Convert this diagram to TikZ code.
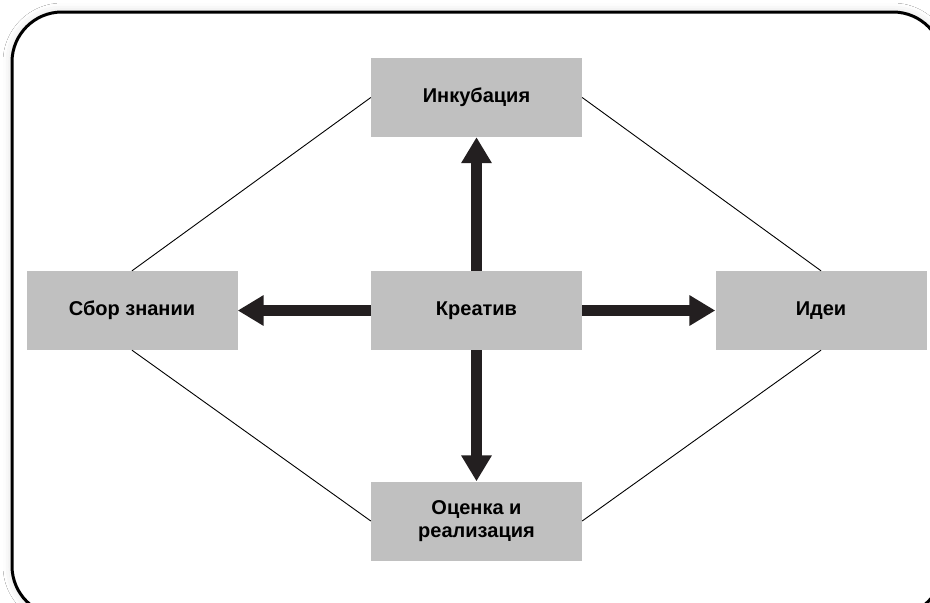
\documentclass[tikz,border=0pt]{standalone}
\usepackage{fontspec}
\setmainfont{Liberation Sans}
\usetikzlibrary{arrows.meta,shadows.blur}
\tikzset{
  blok/.style={fill=boxColor,minimum width=211pt,minimum height=79pt,inner sep=0pt,
    align=center,font=\fontsize{20}{23.5}\selectfont\bfseries},
  strelka/.style={draw=arrowColor,line width=10.5pt,-{Triangle[length=26pt,width=29pt]}},
  svyaz/.style={draw=black,line width=0.9pt}
}
\begin{document}
\begin{tikzpicture}[x=1pt,y=-1pt]
\definecolor{boxColor}{RGB}{192,192,192}
\definecolor{arrowColor}{RGB}{35,31,32}
\definecolor{frameColor}{RGB}{0,0,0}
\path[use as bounding box,fill=white] (0,0) rectangle (930,603);
\begin{scope}
\path[clip] (0,0) rectangle (930,603);
\path[draw=frameColor,line width=3pt,fill=white,rounded corners=50pt,
  blur shadow={shadow xshift=0pt,shadow yshift=0pt,shadow blur radius=9pt,shadow opacity=14}]
  (12,12) rectangle (943,616);

\node[blok] (inkub) at (476.5,97.5) {Инкубация};
\node[blok] (kreativ) at (476.5,310.5) {Креатив};
\node[blok] (sbor) at (132,310.5) {Сбор знании};
\node[blok] (idei) at (821,310.5) {Идеи};
\node[blok] (ocenka) at (476.5,521) {Оценка и\\реализация};

\path[svyaz] (sbor.north) -- (inkub.west);
\path[svyaz] (inkub.east) -- (idei.north);
\path[svyaz] (sbor.south) -- (ocenka.west);
\path[svyaz] (idei.south) -- (ocenka.east);

\path[strelka] (kreativ.north) -- (inkub.south);
\path[strelka] (kreativ.south) -- (ocenka.north);
\path[strelka] (kreativ.west) -- (sbor.east);
\path[strelka] (kreativ.east) -- (idei.west);
\end{scope}
\end{tikzpicture}
\end{document}
